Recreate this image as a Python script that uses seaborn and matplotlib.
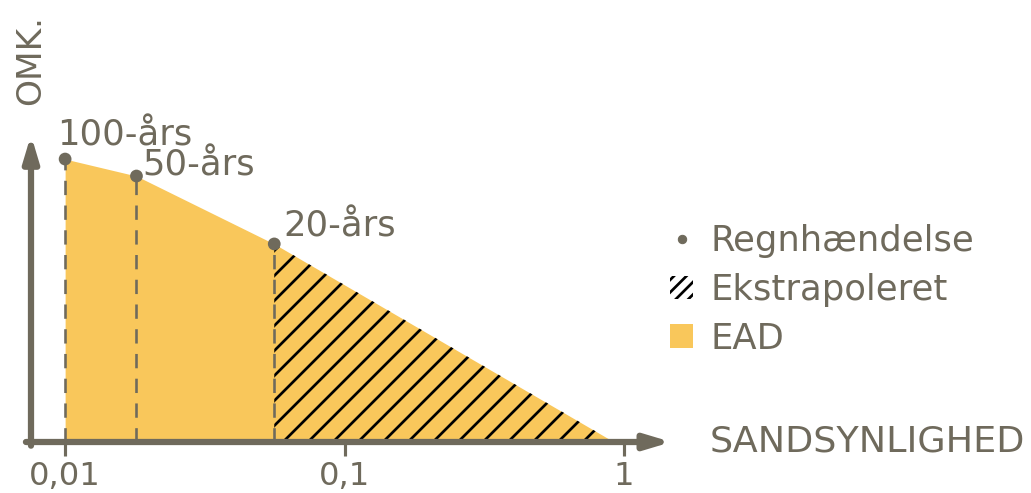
import numpy as np
import pandas as pd
import seaborn as sns
import matplotlib.pyplot as plt
from matplotlib.lines import Line2D
from matplotlib.patches import Patch

# data (log x axis, arbitrary cost units)
events = ['100-års', '50-års', '20-års']
prob = [0.01, 0.018, 0.056]
cost = [100, 94, 70]
prob_end = 0.92          # extrapolated curve reaches zero here
xticks = [0.01, 0.1, 1]
xticklabels = ['0,01', '0,1', '1']

grey = '#6f6a5c'
yellow = '#f9c75b'

sns.set_theme(style='white')
plt.rcParams['font.family'] = ['DejaVu Sans']
plt.rcParams['hatch.linewidth'] = 2.6

df = pd.DataFrame({'event': events, 'prob': prob, 'cost': cost})
fill_x = prob + [prob_end]
fill_y = cost + [0]

DPI = 75
fig = plt.figure(figsize=(1031 / DPI, 493 / DPI), dpi=DPI)
# axes box: left at y-axis (x=31px), right at arrow tip (665px), bottom 442px, top 135px
ax = fig.add_axes([31 / 1031, 1 - 442 / 493, (665 - 31) / 1031, (442 - 135) / 493])
ax.set_xscale('log')
ax.set_xlim(0.00755, 1.40)
ax.set_ylim(0, 108.5)

# EAD area
ax.fill_between(fill_x, fill_y, 0, color=yellow, lw=0, zorder=1)
# extrapolated part
ax.fill_between(fill_x[2:], fill_y[2:], 0, facecolor='none', edgecolor='black',
                hatch='/', lw=0, zorder=2)
# dashed drop lines
ax.vlines(df['prob'], 0, df['cost'], colors=grey, linestyles=(0, (5.5, 4)), lw=2.5, zorder=3)
sns.scatterplot(data=df, x='prob', y='cost', color=grey, s=150, edgecolor='none',
                ax=ax, zorder=4, legend=False)

offsets = [(-8, 6), (6, -6), (9, 0)]
for (_, r), off in zip(df.iterrows(), offsets):
    ax.annotate(r['event'], (r['prob'], r['cost']), xytext=off, textcoords='offset points',
                fontsize=34, color=grey, ha='left', va='bottom')

for s in ax.spines.values():
    s.set_visible(False)
ax.set_xlabel('')
ax.set_ylabel('')
ax.set_yticks([])
ax.set_xticks(xticks)
ax.set_xticklabels(xticklabels, fontsize=31, color=grey)
ax.minorticks_off()
ax.tick_params(axis='x', length=13, width=3, color=grey, pad=5, bottom=True)

# axis arrows
arrow = dict(arrowstyle='-|>,head_length=1.0,head_width=0.3', color=grey, lw=6,
             shrinkA=0, shrinkB=0, mutation_scale=20)
ax.annotate('', xy=(1.01, 0), xytext=(-0.008, 0), xycoords='axes fraction', arrowprops=arrow)
ax.annotate('', xy=(0, 1.0), xytext=(0, -0.012), xycoords='axes fraction', arrowprops=arrow)

fig.text(31 / 1031, 1 - 60 / 493, 'OMK.', rotation=90, fontsize=33, color=grey,
         ha='center', va='center')
fig.text(1025 / 1031, 1 - 442 / 493, 'SANDSYNLIGHED', fontsize=35, color=grey,
         ha='right', va='center')

handles = [
    Line2D([], [], marker='o', ls='none', color=grey, markersize=8),
    Patch(facecolor='none', edgecolor='black', hatch='//', lw=0),
    Patch(facecolor=yellow, edgecolor='none'),
]
labels = ['Regnhændelse', 'Ekstrapoleret', 'EAD']
fig.legend(handles, labels, loc='upper left', bbox_to_anchor=(670 / 1031, 1 - 224 / 493),
           frameon=False, fontsize=34, labelcolor=grey, handlelength=0.65,
           handleheight=0.65, handletextpad=0.5, labelspacing=0.42,
           borderpad=0, borderaxespad=0)

fig.savefig('out.png', dpi=DPI)
